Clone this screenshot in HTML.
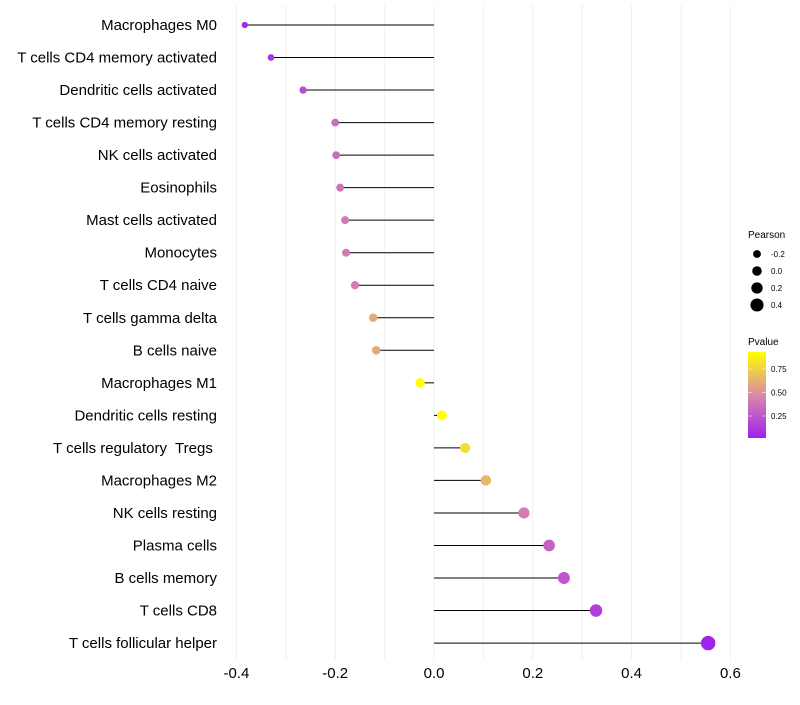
<!DOCTYPE html>
<html><head><meta charset="utf-8"><style>
body{margin:0;background:#fff;font-family:"Liberation Sans",sans-serif}
text{white-space:pre}
</style></head><body>
<svg id="chart" width="800" height="700" xmlns="http://www.w3.org/2000/svg" font-family="Liberation Sans, sans-serif">
<g id="grid"></g>
<g id="marks"></g>
<g id="ylabels"></g>
<g id="xlabels"></g>
<g id="legend">
<text x="748" y="238" font-size="10" fill="#000">Pearson</text>
<text x="748" y="345" font-size="10" fill="#000">Pvalue</text>
<defs><linearGradient id="pg" x1="0" y1="1" x2="0" y2="0">
<stop offset="0" stop-color="#A020F0"/><stop offset="0.5" stop-color="#D98AA8"/><stop offset="1" stop-color="#FFFF00"/></linearGradient></defs>
<rect x="748" y="352" width="18" height="86" fill="url(#pg)"/>
</g>
</svg>
<script>
const categories=["Macrophages M0","T cells CD4 memory activated","Dendritic cells activated","T cells CD4 memory resting","NK cells activated","Eosinophils","Mast cells activated","Monocytes","T cells CD4 naive","T cells gamma delta","B cells naive","Macrophages M1","Dendritic cells resting","T cells regulatory  Tregs ","Macrophages M2","NK cells resting","Plasma cells","B cells memory","T cells CD8","T cells follicular helper"];
const pearson=[-0.383,-0.330,-0.265,-0.200,-0.198,-0.190,-0.180,-0.178,-0.160,-0.123,-0.117,-0.028,0.016,0.063,0.105,0.182,0.233,0.263,0.328,0.555];
const pvalue=[0.05,0.12,0.2,0.35,0.35,0.38,0.4,0.4,0.42,0.6,0.6,0.93,0.98,0.8,0.65,0.42,0.3,0.25,0.15,0.03];
const xTicks=[-0.4,-0.2,0,0.2,0.4,0.6];
const xTickLabels=["-0.4","-0.2","0.0","0.2","0.4","0.6"];
const gridVals=[-0.4,-0.3,-0.2,-0.1,0,0.1,0.2,0.3,0.4,0.5,0.6];
const legendSizes=[-0.2,0.0,0.2,0.4];
const legendSizeLabels=["-0.2","0.0","0.2","0.4"];
const legendP=[0.75,0.5,0.25];
const legendPLabels=["0.75","0.50","0.25"];
const NS="http://www.w3.org/2000/svg";
const X=v=>434+v*494;
const Y=i=>25+i*32.53;
const R=v=>4.8+v*4.4;
function hex(c){return [1,3,5].map(k=>parseInt(c.substr(k,2),16));}
function col(p){const s=[["#A020F0",0],["#D98AA8",0.5],["#FFFF00",1]];const t=Math.max(0,Math.min(1,(p-0.016)/(0.93-0.016)));
let a=t<0.5?s[0]:s[1],b=t<0.5?s[1]:s[2];const u=(t-a[1])/(b[1]-a[1]);const A=hex(a[0]),B=hex(b[0]);
return "rgb("+A.map((x,k)=>Math.round(x+(B[k]-x)*u)).join(",")+")";}
function mk(tag,attrs,parent){const e=document.createElementNS(NS,tag);for(const k in attrs)e.setAttribute(k,attrs[k]);parent.appendChild(e);return e;}
const grid=document.getElementById('grid'),marks=document.getElementById('marks'),yl=document.getElementById('ylabels'),xl=document.getElementById('xlabels'),lg=document.getElementById('legend');
gridVals.forEach(v=>{const l=mk('line',{x1:X(v),x2:X(v),y1:5,y2:660,stroke:'#f0f0f0','stroke-width':1},grid);

});
categories.forEach((c,i)=>{
const s=mk('line',{x1:X(0),x2:X(pearson[i]),y1:Y(i),y2:Y(i),stroke:'#000','stroke-width':1},marks);


const d=mk('circle',{cx:X(pearson[i]),cy:Y(i),r:R(pearson[i]),fill:col(pvalue[i])},marks);


const t=mk('text',{x:217,y:Y(i)+5,'text-anchor':'end','font-size':15,fill:'#000'},yl);t.textContent=c;


});
xTicks.forEach((v,i)=>{const t=mk('text',{x:X(v),y:678,'text-anchor':'middle','font-size':15,fill:'#000'},xl);t.textContent=xTickLabels[i];

});
legendSizes.forEach((v,i)=>{const y=254+i*17;
const c=mk('circle',{cx:757,cy:y,r:R(v),fill:'#000'},lg);


const t=mk('text',{x:771,y:y+3,'font-size':8,fill:'#000'},lg);t.textContent=legendSizeLabels[i];

});
legendP.forEach((p,i)=>{const y=369+(0.75-p)*94;
mk('line',{x1:748,x2:752,y1:y,y2:y,stroke:'#fff','stroke-width':0.5},lg);
mk('line',{x1:762,x2:766,y1:y,y2:y,stroke:'#fff','stroke-width':0.5},lg);
const t=mk('text',{x:771,y:y+3,'font-size':8,fill:'#000'},lg);t.textContent=legendPLabels[i];

});
</script>
</body></html>
